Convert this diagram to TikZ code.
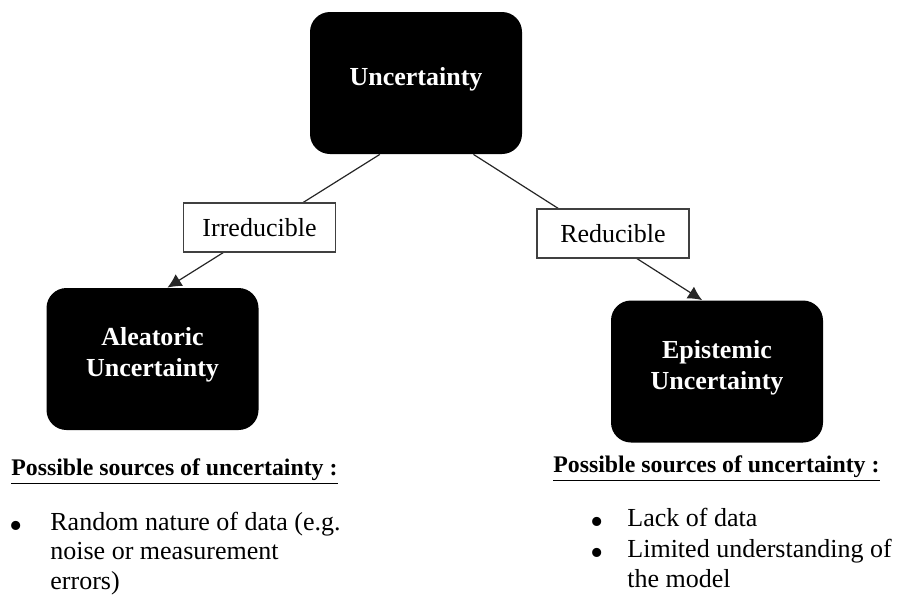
\documentclass[tikz,border=0pt]{standalone}
\usepackage{fontspec}
\setmainfont{Liberation Serif}
\usetikzlibrary{arrows.meta}
\usetikzlibrary{calc}
\usetikzlibrary{positioning}
\tikzset{ubox/.style = {fill=black, rounded corners=10pt,
                        minimum width=106pt, minimum height=71pt,
                        text=white, align=center, inner sep=0pt, text depth=7pt,
                        font=\fontsize{13}{15.5}\selectfont\bfseries},
         tagbox/.style = {draw=black!75, fill=white, line width=0.6pt,
                          minimum width=76pt, minimum height=24.5pt, inner sep=0pt,
                          font=\fontsize{13}{15.5}\selectfont},
         link/.style = {line width=0.6pt, draw=black!85},
         srchead/.style = {anchor=base west, inner sep=0pt,
                           font=\fontsize{11.9}{14}\selectfont\bfseries},
         srcitem/.style = {anchor=base west, inner sep=0pt, align=left,
                           font=\fontsize{13}{14.6}\selectfont},
         srcdot/.style = {anchor=center, inner sep=0pt,
                          text height=9pt, text depth=-4pt,
                          font=\fontsize{19}{20}\selectfont}}

\begin{document}
\begin{tikzpicture}[x=0.5pt, y=-0.5pt]
    \useasboundingbox (0, 0) rectangle (898, 596);

    \node [ubox] (unc) at (416, 83) {Uncertainty};
    \node [ubox] (alea) at (152.5, 359) {Aleatoric\\Uncertainty};
    \node [ubox] (epi) at (717, 371.5) {Epistemic\\Uncertainty};

    \coordinate (ua) at ($(unc.south west)!0.33!(unc.south east)$);
    \coordinate (ub) at ($(unc.south west)!0.77!(unc.south east)$);
    \coordinate (at) at ($(alea.north west)!0.57!(alea.north east)$);
    \coordinate (et) at ($(epi.north west)!0.43!(epi.north east)$);

    \draw [link, -{Latex[length=7pt, width=7pt]}] (ua) -- (at);
    \draw [link, -{Latex[length=7pt, width=7pt]}] (ub) -- (et);

    % labels sit on top of the links
    \node [tagbox] (irr) at (259.5, 227.5) {Irreducible};
    \node [tagbox] (red) at (613, 233.5) {Reducible};

    % sources, left (multi-line nodes sit on their last baseline)
    \node [srchead] (headA) at (11, 475) {\underline{Possible sources of uncertainty :}};
    \node [srcdot] (dotA) at (16, 529) {\textbullet};
    \node [srcitem] (itemA) at (50, 589) {Random nature of data (e.g.\\noise or measurement\\errors)};

    % sources, right
    \node [srchead] (headB) at (553, 472) {\underline{Possible sources of uncertainty :}};
    \node [srcdot] (dotB) at (597, 525) {\textbullet};
    \node [srcitem] (itemB) at (627, 526) {Lack of data};
    \node [srcdot] (dotC) at (597, 556) {\textbullet};
    \node [srcitem] (itemC) at (627, 587) {Limited understanding of\\the model};
\end{tikzpicture}
\end{document}
